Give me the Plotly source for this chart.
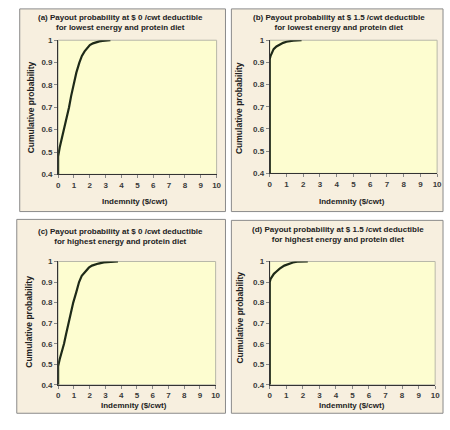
import plotly.graph_objects as go

# ---- data ----
titles = [
    "(a) Payout probability at $ 0 /cwt deductible<br>for lowest energy and protein diet",
    "(b) Payout probability at $ 1.5 /cwt deductible<br>for lowest energy and protein diet",
    "(c) Payout probability at $ 0 /cwt deductible<br>for highest energy and protein diet",
    "(d) Payout probability at $ 1.5 /cwt deductible<br>for highest energy and protein diet",
]
x_title = "Indemnity ($/cwt)"
y_title = "Cumulative probability"

x_ticks = [0, 1, 2, 3, 4, 5, 6, 7, 8, 9, 10]
y_ticks = [0.4, 0.5, 0.6, 0.7, 0.8, 0.9, 1.0]
y_ticklabels = ["0.4", "0.5", "0.6", "0.7", "0.8", "0.9", "1"]

a_x = [0, 0, 0.1, 0.2, 0.38, 0.55, 0.69, 0.82, 0.96, 1.15, 1.34, 1.5, 1.67, 1.85, 2.0, 2.2, 2.36, 2.6, 2.8, 3.1, 3.3]
a_y = [0.40, 0.48, 0.52, 0.55, 0.60, 0.65, 0.70, 0.75, 0.80, 0.855, 0.90, 0.93, 0.95, 0.967, 0.978, 0.986, 0.99, 0.995, 0.997, 0.999, 1.0]

b_x = [0, 0, 0.05, 0.12, 0.23, 0.4, 0.63, 0.8, 1.0, 1.2, 1.4, 1.65, 1.9]
b_y = [0.40, 0.915, 0.93, 0.945, 0.96, 0.972, 0.982, 0.988, 0.993, 0.996, 0.998, 0.999, 1.0]

c_x = [0, 0, 0.1, 0.2, 0.375, 0.5, 0.65, 0.8, 0.96, 1.15, 1.33, 1.5, 1.73, 1.95, 2.15, 2.35, 2.56, 2.9, 3.3, 3.6, 3.8]
c_y = [0.40, 0.49, 0.525, 0.55, 0.60, 0.645, 0.70, 0.75, 0.80, 0.85, 0.90, 0.93, 0.95, 0.97, 0.98, 0.986, 0.99, 0.996, 0.999, 1.0, 1.0]

d_x = [0, 0, 0.05, 0.15, 0.25, 0.39, 0.6, 0.88, 1.17, 1.4, 1.66, 2.0, 2.3]
d_y = [0.40, 0.90, 0.915, 0.93, 0.94, 0.95, 0.965, 0.98, 0.99, 0.995, 0.999, 1.0, 1.0]

series = [(a_x, a_y), (b_x, b_y), (c_x, c_y), (d_x, d_y)]

# ---- layout geometry (pixels in 450x430) ----
W, H = 450, 430
plot_px = [  # x0, x1, ytop, ybottom
    (57, 218, 37, 174),
    (272, 442, 37, 173),
    (57, 217, 263, 389),
    (272, 440, 263, 389),
]
panel_px = [
    (18, 227, 5, 212),
    (233, 448, 5, 212),
    (15, 227, 220, 418),
    (233, 448, 221, 418),
]
title_px = [(120, 19), (342, 19), (120, 237), (341, 235)]
ytitle_px = [(29, 106), (241, 106), (28, 325), (242, 320)]
xtitle_px = [(135, 202), (356, 202), (134, 410), (356, 410)]

px = lambda v: v / W
py = lambda v: 1 - v / H

fig = go.Figure()
shapes = []
annotations = []
FONT = "Liberation Sans, Arial, sans-serif"

for i, (xs, ys) in enumerate(series):
    n = "" if i == 0 else str(i + 1)
    fig.add_trace(go.Scatter(x=xs, y=ys, mode="lines",
                             line=dict(color="#1e2a18", width=2.2),
                             xaxis="x" + n, yaxis="y" + n,
                             showlegend=False, hoverinfo="skip"))
    x0, x1, yt, yb = plot_px[i]
    axfont = dict(family=FONT, size=8, color="#3a3a3a", weight="bold")
    fig.update_layout(**{
        "xaxis" + n: dict(domain=[px(x0), px(x1)], range=[0, 10], anchor="y" + n,
                          tickvals=x_ticks, showgrid=False, zeroline=False,
                          showline=True, linecolor="#333", linewidth=1,
                          ticks="outside", ticklen=3, tickcolor="#888",
                          tickfont=axfont),
        "yaxis" + n: dict(domain=[py(yb), py(yt)], range=[0.4, 1.0], anchor="x" + n,
                          tickvals=y_ticks, ticktext=y_ticklabels,
                          showgrid=False, zeroline=False,
                          showline=True, linecolor="#333", linewidth=1,
                          ticks="outside", ticklen=3, tickcolor="#888",
                          tickfont=axfont),
    })
    # panel frame
    p0, p1, pt, pb = panel_px[i]
    shapes.append(dict(type="rect", xref="paper", yref="paper",
                       x0=px(p0), x1=px(p1), y0=py(pb), y1=py(pt),
                       fillcolor="#f7efdf", line=dict(color="#8a8a8a", width=1),
                       layer="below"))
    # plot area (light yellow with light gray border)
    shapes.append(dict(type="rect", xref="x" + n + " domain", yref="y" + n + " domain",
                       x0=0, x1=1, y0=0, y1=1, fillcolor="#fdfdd0",
                       line=dict(color="#b8b8a8", width=1), layer="below"))
    tx, ty = title_px[i]
    annotations.append(dict(text="<b>" + titles[i].replace("<br>", "</b><br><b>") + "</b>",
                            xref="paper", yref="paper", x=px(tx), y=py(ty),
                            showarrow=False, xanchor="center", yanchor="middle",
                            font=dict(family=FONT, size=8, color="#222")))
    yx, yy = ytitle_px[i]
    annotations.append(dict(text="<b>" + y_title + "</b>", textangle=-90,
                            xref="paper", yref="paper", x=px(yx), y=py(yy),
                            showarrow=False, xanchor="center", yanchor="middle",
                            font=dict(family=FONT, size=8.5, color="#222")))
    xx, xy = xtitle_px[i]
    annotations.append(dict(text="<b>" + x_title + "</b>",
                            xref="paper", yref="paper", x=px(xx), y=py(xy),
                            showarrow=False, xanchor="center", yanchor="middle",
                            font=dict(family=FONT, size=8, color="#222")))

fig.update_layout(width=W, height=H, margin=dict(l=0, r=0, t=0, b=0),
                  paper_bgcolor="white", plot_bgcolor="#fdfdd0",
                  shapes=shapes, annotations=annotations)

fig.write_html("out.html", config={"displayModeBar": False},
               post_script="document.body.style.margin='0';document.body.style.padding='0';")
